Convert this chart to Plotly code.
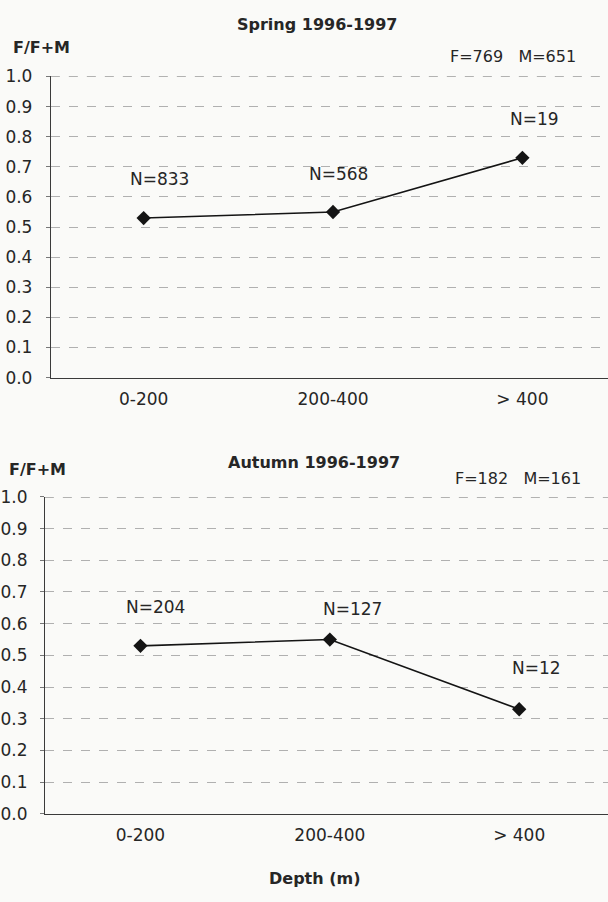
import plotly.graph_objects as go

# Depth classes (m)
depth_classes = ["0-200", "200-400", "> 400"]

# Proportion of females F/(F+M) per depth class
spring_ratio = [0.53, 0.55, 0.73]
autumn_ratio = [0.53, 0.55, 0.33]

# Sample sizes per depth class
spring_n = [833, 568, 19]
autumn_n = [204, 127, 12]

# Season totals
spring_totals = {"F": 769, "M": 651}
autumn_totals = {"F": 182, "M": 161}

y_ticks = [round(i / 10, 1) for i in range(11)]

FONT = "DejaVu Sans, Liberation Sans, sans-serif"
INK = "#262626"
BG = "#fafaf8"
W, H = 608, 902


def px_x(px):
    return px / W


def px_y(px):
    return (H - px) / H


fig = go.Figure()

for ratio, xa, ya in [(spring_ratio, "x", "y"), (autumn_ratio, "x2", "y2")]:
    fig.add_trace(go.Scatter(
        x=depth_classes, y=ratio, xaxis=xa, yaxis=ya,
        mode="lines+markers",
        line=dict(color="#141414", width=1.6),
        marker=dict(symbol="diamond", size=11, color="#141414"),
        showlegend=False, hoverinfo="skip",
    ))

tick_font = dict(family=FONT, size=17, color=INK)


def x_axis(domain, rng, anchor):
    return dict(domain=domain, range=rng, anchor=anchor, type="category",
                showgrid=False, zeroline=False, ticks="",
                showline=True, linecolor="#3a3a3a", linewidth=1,
                tickfont=tick_font, ticklabelstandoff=6)


def y_axis(domain, anchor, standoff):
    return dict(domain=domain, range=[0, 1], anchor=anchor,
                tickvals=y_ticks, tickformat=".1f",
                ticks="outside", ticklen=4, tickcolor="#777777",
                showgrid=True, gridcolor="#b0b0b0", griddash="dash", gridwidth=1,
                zeroline=False, showline=True, linecolor="#3a3a3a", linewidth=1,
                tickfont=tick_font, ticklabelstandoff=standoff)


fig.update_layout(
    width=W, height=H,
    margin=dict(l=0, r=0, t=0, b=0),
    paper_bgcolor=BG, plot_bgcolor=BG,
    font=dict(family=FONT, color=INK),
    xaxis=x_axis([px_x(49), 1], [-0.49, 2.452], "y"),
    yaxis=y_axis([px_y(376), px_y(68)], "x", 10),
    xaxis2=x_axis([px_x(43), 1], [-0.505, 2.469], "y2"),
    yaxis2=y_axis([px_y(822), px_y(498)], "x2", 9),
)

# Darker dashed line along the 1.0 level of each panel
for xa, ya in [("x", "y"), ("x2", "y2")]:
    fig.add_shape(type="line", xref=f"{xa} domain", yref=ya,
                  x0=0, x1=1, y0=1, y1=1,
                  line=dict(color="#6a6a6a", width=1.2, dash="dash"))

# Pixel offsets of the N labels relative to each point
spring_shift = [(16, 39), (5, 38), (12, 39)]
autumn_shift = [(15, 39), (23, 31), (17, 41)]

annotations = []
for ratio, ns, shifts, xa, ya in [
    (spring_ratio, spring_n, spring_shift, "x", "y"),
    (autumn_ratio, autumn_n, autumn_shift, "x2", "y2"),
]:
    for cat, v, n, (dx, dy) in zip(depth_classes, ratio, ns, shifts):
        annotations.append(dict(
            x=cat, y=v, xref=xa, yref=ya, text=f"N={n}", showarrow=False,
            xanchor="center", yanchor="middle",
            xshift=dx, yshift=dy, font=dict(family=FONT, size=17, color=INK),
        ))


def label(text, x, y, size, bold=False):
    return dict(text=f"<b>{text}</b>" if bold else text,
                x=px_x(x), y=px_y(y), xref="paper", yref="paper",
                xanchor="center", yanchor="middle", showarrow=False,
                font=dict(family=FONT, size=size, color=INK))


annotations += [
    label("Spring 1996-1997", 316, 15, 16, bold=True),
    label("F/F+M", 40, 38, 16, bold=True),
    label(f"F={spring_totals['F']}   M={spring_totals['M']}", 513, 48, 16),
    label("Autumn 1996-1997", 313, 463, 16, bold=True),
    label("F/F+M", 36, 470, 16, bold=True),
    label(f"F={autumn_totals['F']}   M={autumn_totals['M']}", 518, 479, 16),
    label("Depth (m)", 314, 888, 16, bold=True),
]
fig.update_layout(annotations=annotations)

fig.write_html("out.html")
